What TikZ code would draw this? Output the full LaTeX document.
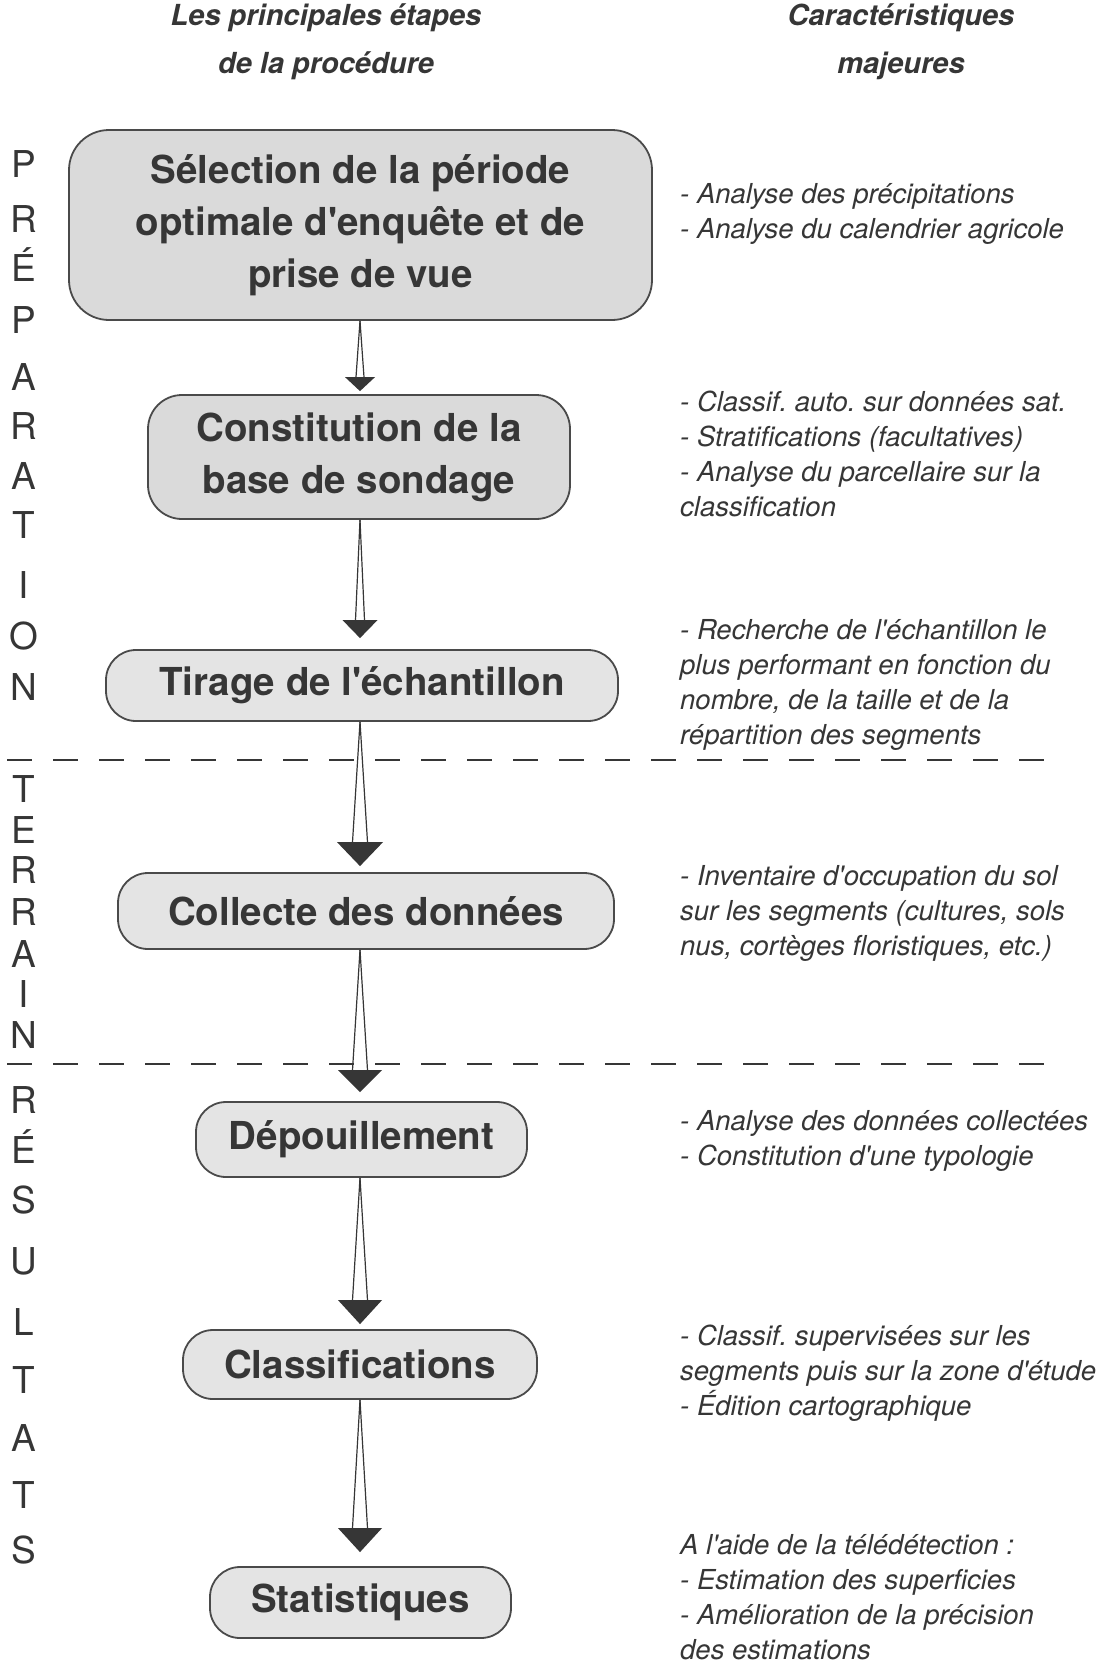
\documentclass[tikz,border=0pt]{standalone}
\usepackage{fontspec}
\setmainfont{TeX Gyre Heros}
\usetikzlibrary{calc}
\definecolor{ink}{HTML}{363636}
\definecolor{edge}{HTML}{4A4A4A}
\definecolor{fillA}{HTML}{DADADA}
\definecolor{fillB}{HTML}{E4E4E4}
\newcommand\apos{\XeTeXglyph\XeTeXglyphindex "quotesingle" \relax}
\tikzset{
  stepbox/.style={draw=edge, line width=1.8pt, rounded corners=#1, inner sep=0pt,
    align=center, text=ink, font=\bfseries\fontsize{38.5}{52}\selectfont},
  note/.style={anchor=west, inner sep=0pt, align=left, text=ink,
    font=\frenchspacing\itshape\fontsize{27.5}{35}\selectfont},
  header/.style={inner sep=0pt, align=center, text=ink,
    font=\bfseries\itshape\fontsize{29}{48}\selectfont},
  sideletter/.style={anchor=base, inner sep=0pt, text=ink,
    font=\fontsize{37}{37}\selectfont},
  shaftline/.style={draw=ink, line width=1.2pt},
  sepline/.style={draw=ink, line width=2.8pt, dash pattern=on 25pt off 21pt},
}
\newcommand\flowarrow[6]{%
  \path (#1.south -| spine) coordinate (fa-s);
  \path (#2.north -| spine) ++(0,-#6) coordinate (fa-t);
  \draw[shaftline] (fa-s) -- ($(fa-t)+(-#3,-#5)$);
  \draw[shaftline] (fa-s) -- ($(fa-t)+(#3,-#5)$);
  \fill[ink] (fa-t) -- ++(-#4,-#5) -- ++(2*#4,0) -- cycle;
}
\begin{document}
\begin{tikzpicture}[x=1pt,y=-1pt]
\useasboundingbox (0,0) rectangle (1114,1662);
\fill[white] (0,0) rectangle (1114,1662);
\coordinate (spine) at (360,0);

% headers
\node[header] (h1) at (326,42) {Les principales étapes\\de la procédure};
\node[header] (h2) at (901,42) {Caractéristiques\\majeures};

% boxes
\node[stepbox=40, fill=fillA, minimum width=583pt, minimum height=190pt] (b1) at (360.5,225)
  {Sélection de la période\\optimale d\apos enquête et de\\prise de vue};
\node[stepbox=34, fill=fillA, minimum width=422pt, minimum height=124pt] (b2) at (359,457)
  {Constitution de la\\base de sondage};
\node[stepbox=30, fill=fillB, minimum width=512pt, minimum height=71pt] (b3) at (362,685.5)
  {Tirage de l\apos échantillon};
\node[stepbox=30, fill=fillB, minimum width=496pt, minimum height=76pt] (b4) at (366,911)
  {Collecte des données};
\node[stepbox=30, fill=fillB, minimum width=331pt, minimum height=75pt] (b5) at (361.5,1139.5)
  {Dépouillement};
\node[stepbox=30, fill=fillB, minimum width=354pt, minimum height=69pt] (b6) at (360,1364.5)
  {Classifications};
\node[stepbox=30, fill=fillB, minimum width=301pt, minimum height=71pt] (b7) at (360.5,1602.5)
  {Statistiques};

% separators
\draw[sepline] (7,760) -- (1044,760);
\draw[sepline] (7,1064) -- (1049,1064);

% arrows
\flowarrow{b1}{b2}{4}{15}{14}{3}
\flowarrow{b2}{b3}{4.5}{17.5}{18}{11}
\flowarrow{b3}{b4}{7.5}{23}{24}{6}
\flowarrow{b4}{b5}{7.5}{22}{22}{9}
\flowarrow{b5}{b6}{7.5}{22}{24}{5}
\flowarrow{b6}{b7}{7.5}{22}{24}{14}

% notes
\node[note] (n1) at (680,214) {- Analyse des précipitations\\- Analyse du calendrier agricole};
\node[note] (n2) at (680,454) {- Classif. auto. sur données sat.\\- Stratifications (facultatives)\\- Analyse du parcellaire sur la\\classification};
\node[note] (n3) at (680,685) {- Recherche de l\apos échantillon le\\plus performant en fonction du\\nombre, de la taille et de la\\répartition des segments};
\node[note] (n4) at (680,913) {- Inventaire d\apos occupation du sol\\sur les segments (cultures, sols\\nus, cortèges floristiques, etc.)};
\node[note] (n5) at (680,1140.5) {- Analyse des données collectées\\- Constitution d\apos une typologie};
\node[note] (n6) at (680,1373.5) {- Classif. supervisées sur les\\segments puis sur la zone d\apos étude\\- Édition cartographique};
\node[note] (n7) at (680,1597) {A l\apos aide de la télédétection :\\- Estimation des superficies\\- Amélioration de la précision\\des estimations};

% side letters
\foreach \l/\y [count=\i] in {P/164,R/219,É/268,P/320,A/377,R/426,A/476,T/525,I/585,O/636,N/687}
  \node[sideletter] (pa\i) at (24,\y+13) {\l};
\foreach \l/\y [count=\i] in {T/789,E/830,R/870,R/912,A/954,I/994,N/1035}
  \node[sideletter] (te\i) at (24,\y+13) {\l};
\foreach \l/\y [count=\i] in {R/1100,É/1150,S/1200,U/1261,L/1322,T/1380,A/1438,T/1495,S/1550}
  \node[sideletter] (re\i) at (24,\y+13) {\l};
\end{tikzpicture}
\end{document}
